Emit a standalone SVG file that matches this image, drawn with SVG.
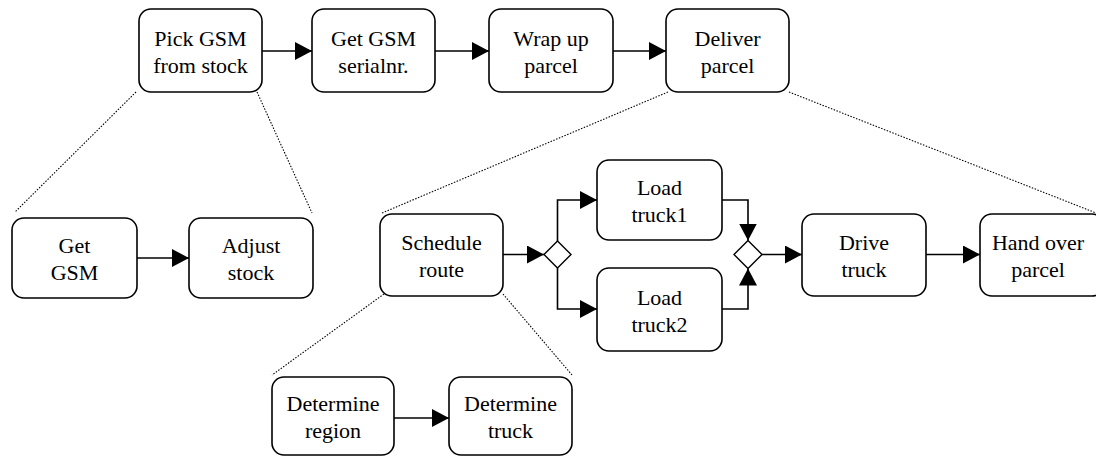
<svg xmlns="http://www.w3.org/2000/svg" width="1096" height="456" viewBox="0 0 1096 456">
<defs>
<style>
.box{fill:#fff;stroke:#000;stroke-width:1.6}
.con{fill:none;stroke:#000;stroke-width:1.6}
.dot{fill:none;stroke:#000;stroke-width:1.1;stroke-dasharray:1.5 1.5}
.gw{fill:#fff;stroke:#000;stroke-width:1.4}
</style>
<marker id="arr" markerUnits="userSpaceOnUse" markerWidth="18" markerHeight="18" viewBox="0 0 18 18" refX="17" refY="9" orient="auto">
<path d="M0,0 L17,9 L0,18 Z" fill="#000"/>
</marker>
</defs>
<rect width="1096" height="456" fill="#fff"/>
<g id="connectors">
<path class="con" d="M262,51 H312" marker-end="url(#arr)"/>
<path class="con" d="M435,51 H489" marker-end="url(#arr)"/>
<path class="con" d="M613,51 H666" marker-end="url(#arr)"/>
<path class="con" d="M137,258 H189" marker-end="url(#arr)"/>
<path class="con" d="M503,254.5 H544" marker-end="url(#arr)"/>
<path class="con" d="M557.5,241 V200 H597" marker-end="url(#arr)"/>
<path class="con" d="M557.5,268 V309 H597" marker-end="url(#arr)"/>
<path class="con" d="M722,200 H748 V240.5" marker-end="url(#arr)"/>
<path class="con" d="M722,309 H748 V268.5" marker-end="url(#arr)"/>
<path class="con" d="M762,254.5 H802" marker-end="url(#arr)"/>
<path class="con" d="M926,254.5 H980" marker-end="url(#arr)"/>
<path class="con" d="M394,418 H449" marker-end="url(#arr)"/>
<path class="dot" d="M136,92 L15,212"/>
<path class="dot" d="M257,92 L312,213"/>
<path class="dot" d="M668,92 L382,213"/>
<path class="dot" d="M789,92 L1096,213"/>
<path class="dot" d="M384,294 L272,375"/>
<path class="dot" d="M503,294 L572,375"/>
</g>
<g id="split"><path class="gw" d="M557.5,241 L571,254.5 L557.5,268 L544,254.5 Z"/></g>
<g id="merge"><path class="gw" d="M748,240.5 L762,254.5 L748,268.5 L734,254.5 Z"/></g>
<g font-family="Liberation Serif, Times New Roman, Tinos, serif" font-size="22" text-anchor="middle" fill="#000">
<g id="pick"><rect class="box" x="139" y="9" width="123" height="83" rx="12"/><text x="200.5" y="46">Pick GSM</text><text x="200.5" y="73">from stock</text></g>
<g id="serial"><rect class="box" x="312" y="9" width="123" height="83" rx="12"/><text x="373.5" y="46">Get GSM</text><text x="373.5" y="73">serialnr.</text></g>
<g id="wrap"><rect class="box" x="489" y="9" width="124" height="83" rx="12"/><text x="551" y="46">Wrap up</text><text x="551" y="73">parcel</text></g>
<g id="deliver"><rect class="box" x="666" y="9" width="123" height="83" rx="12"/><text x="727.5" y="46">Deliver</text><text x="727.5" y="73">parcel</text></g>
<g id="getgsm"><rect class="box" x="12" y="218" width="125" height="80" rx="12"/><text x="74.5" y="253">Get</text><text x="74.5" y="280">GSM</text></g>
<g id="adjust"><rect class="box" x="189" y="218" width="124" height="80" rx="12"/><text x="251" y="253">Adjust</text><text x="251" y="280">stock</text></g>
<g id="schedule"><rect class="box" x="380" y="214" width="123" height="82" rx="12"/><text x="441.5" y="250">Schedule</text><text x="441.5" y="277">route</text></g>
<g id="load1"><rect class="box" x="597" y="160" width="125" height="80" rx="12"/><text x="659.5" y="195">Load</text><text x="659.5" y="222">truck1</text></g>
<g id="load2"><rect class="box" x="597" y="268" width="125" height="83" rx="12"/><text x="659.5" y="304.5">Load</text><text x="659.5" y="331.5">truck2</text></g>
<g id="drive"><rect class="box" x="802" y="214" width="124" height="82" rx="12"/><text x="864" y="250">Drive</text><text x="864" y="277">truck</text></g>
<g id="handover"><rect class="box" x="980" y="214" width="124" height="82" rx="12"/><text x="1038" y="250">Hand over</text><text x="1038" y="277">parcel</text></g>
<g id="region"><rect class="box" x="272" y="377" width="122" height="78" rx="12"/><text x="333" y="411">Determine</text><text x="333" y="438">region</text></g>
<g id="dtruck"><rect class="box" x="449" y="377" width="123" height="78" rx="12"/><text x="510.5" y="411">Determine</text><text x="510.5" y="438">truck</text></g>
</g>
</svg>
